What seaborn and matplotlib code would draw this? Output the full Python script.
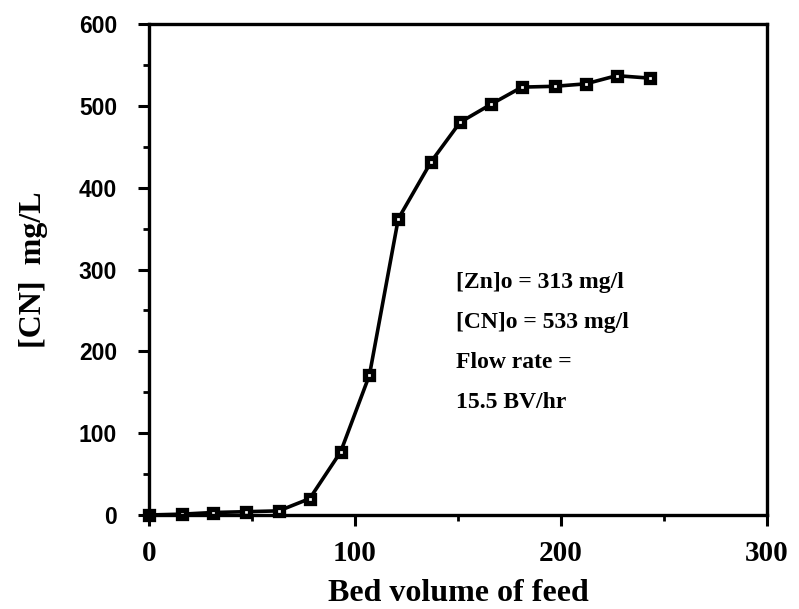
import matplotlib
matplotlib.use("Agg")
import matplotlib.pyplot as plt
import seaborn as sns
import pandas as pd
from matplotlib.ticker import MultipleLocator

bed_volume = [0, 16, 31, 47, 63, 78, 93, 107, 121, 137, 151, 166, 181, 197, 212, 227, 243]
cn_conc = [0, 1, 3, 4, 5, 20, 77, 171, 362, 432, 480, 502, 523, 524, 527, 537, 534]
x_ticks = [0, 100, 200, 300]
y_ticks = [0, 100, 200, 300, 400, 500, 600]
notes = ["[Zn]o = 313 mg/l", "[CN]o = 533 mg/l", "Flow rate =", "15.5 BV/hr"]

df = pd.DataFrame({"bv": bed_volume, "cn": cn_conc})

sns.set_style("ticks")
plt.rcParams["font.family"] = ["Liberation Serif", "DejaVu Serif"]
plt.rcParams["text.color"] = "black"
plt.rcParams["axes.labelcolor"] = "black"
plt.rcParams["xtick.color"] = "black"
plt.rcParams["ytick.color"] = "black"

fig = plt.figure(figsize=(7.99, 6.09), dpi=100)
ax = fig.add_axes([0.1865, 0.1544, 0.7735, 0.806])

sns.lineplot(data=df, x="bv", y="cn", ax=ax, color="black", linewidth=2.6,
             marker="s", markersize=6, markerfacecolor="white",
             markeredgecolor="black", markeredgewidth=3.8, clip_on=False)

ax.set_xlim(0, 300)
ax.set_ylim(0, 600)
ax.set_xticks(x_ticks)
ax.set_yticks(y_ticks)
ax.xaxis.set_minor_locator(MultipleLocator(50))
ax.yaxis.set_minor_locator(MultipleLocator(50))

for s in ax.spines.values():
    s.set_linewidth(2.4)
    s.set_color("black")

ax.tick_params(axis="both", which="major", direction="out", length=8, width=2.2,
               color="black", labelcolor="black")
ax.tick_params(axis="both", which="minor", direction="out", length=4, width=2.0, color="black")
ax.tick_params(axis="x", which="major", pad=10)
ax.tick_params(axis="y", which="major", pad=15)

for lab in ax.get_xticklabels():
    lab.set_fontsize(21)
    lab.set_fontweight("bold")
for lab in ax.get_yticklabels():
    lab.set_fontsize(16.5)
    lab.set_fontweight("bold")
    lab.set_family(["Liberation Sans Narrow", "Liberation Sans", "DejaVu Sans"])

ax.set_xlabel("Bed volume of feed", fontsize=23, fontweight="bold", labelpad=9, color="black")
ax.set_ylabel("[CN]  mg/L", fontsize=23, fontweight="bold", labelpad=22, color="black")

note_y = [284, 235, 186, 137]
for txt, yy in zip(notes, note_y):
    ax.text(149, yy, txt, fontsize=17, fontweight="bold", va="center", ha="left", color="black")

fig.savefig("out.png", dpi=100, facecolor="white")
